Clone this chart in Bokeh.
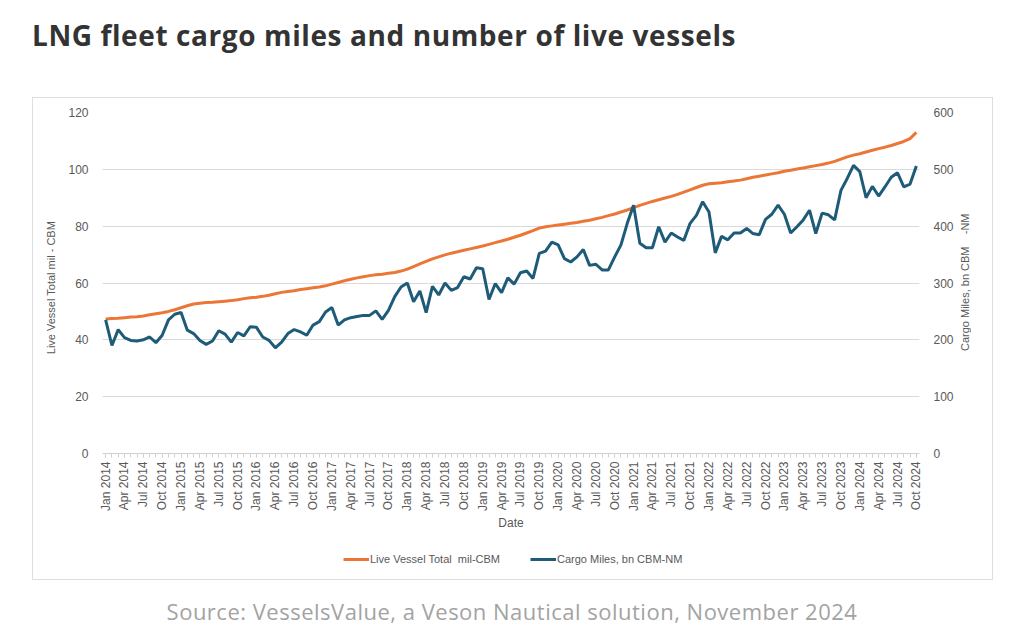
import math
from bokeh.plotting import figure
from bokeh.models import Range1d, LinearAxis, FixedTicker, Legend, LegendItem, Div
from bokeh.layouts import column, row
from bokeh.embed import file_html
from bokeh.resources import INLINE

# ---------------- data ----------------
years = list(range(2014, 2025))
quarter_months = ["Jan", "Apr", "Jul", "Oct"]

# Live vessel total, mil CBM (left axis), monthly Jan 2014 .. Oct 2024
live_vessel = [
    47.3, 47.5, 47.6, 47.8, 48.0, 48.1, 48.4, 48.8, 49.2, 49.5, 50.0, 50.6,
    51.3, 52.0, 52.6, 52.9, 53.1, 53.2, 53.4, 53.6, 53.8, 54.1, 54.5, 54.8,
    55.0, 55.3, 55.7, 56.2, 56.7, 57.0, 57.3, 57.7, 58.0, 58.3, 58.6, 59.0,
    59.6, 60.2, 60.8, 61.3, 61.8, 62.2, 62.6, 62.9, 63.1, 63.4, 63.7, 64.2,
    64.9, 65.8, 66.7, 67.6, 68.5, 69.2, 69.9, 70.5, 71.0, 71.5, 72.0, 72.5,
    73.0, 73.6, 74.2, 74.8, 75.4, 76.1, 76.8, 77.6, 78.4, 79.3, 79.8, 80.1,
    80.4, 80.7, 81.0, 81.3, 81.7, 82.1, 82.6, 83.1, 83.7, 84.3, 85.0, 85.7,
    86.5, 87.3, 88.0, 88.7, 89.3, 89.9, 90.5, 91.2, 92.0, 92.8, 93.6, 94.4,
    94.9, 95.1, 95.3, 95.6, 95.9, 96.2, 96.7, 97.2, 97.6, 98.0, 98.4, 98.8,
    99.3, 99.7, 100.1, 100.5, 100.9, 101.3, 101.7, 102.2, 102.8, 103.6, 104.4, 105.0,
    105.5, 106.1, 106.7, 107.3, 107.8, 108.4, 109.1, 109.8, 110.8, 113.0,
]

# Cargo miles, bn CBM-NM (right axis), monthly Jan 2014 .. Oct 2024
cargo_miles = [
    235, 190, 218, 204, 199, 198, 200, 205, 195, 208, 235, 245,
    248, 217, 211, 199, 192, 198, 216, 210, 196, 213, 207, 223,
    222, 205, 199, 186, 196, 211, 218, 214, 208, 226, 232, 249,
    257, 226, 235, 239, 241, 243, 243, 251, 236, 252, 276, 293,
    300, 267, 286, 248, 294, 279, 300, 287, 292, 311, 307, 327,
    325, 271, 299, 283, 309, 298, 318, 321, 308, 352, 356, 372,
    367, 343, 337, 346, 359, 331, 333, 323, 323, 346, 367, 405,
    437, 370, 362, 362, 399, 372, 388, 381, 375, 405, 419, 443,
    425, 353, 382, 376, 388, 388, 396, 387, 385, 412, 421, 437,
    421, 388, 399, 411, 428, 387, 423, 420, 411, 463, 484, 507,
    496, 450, 470, 453, 469, 486, 494, 469, 474, 506,
]

month_index = list(range(len(cargo_miles)))
tick_positions = list(range(0, len(cargo_miles), 3))
tick_labels = [f"{m} {y}" for y in years for m in quarter_months][:len(tick_positions)]

left_ticks = [0, 20, 40, 60, 80, 100, 120]
right_ticks = [0, 100, 200, 300, 400, 500, 600]

series_names = ["Live Vessel Total  mil-CBM", "Cargo Miles, bn CBM-NM"]
left_axis_title = "Live Vessel Total mil    - CBM"
right_axis_title = "Cargo Miles, bn CBM    -NM"
title_text = "LNG fleet cargo miles and number of live vessels"
source_text = "Source: VesselsValue, a Veson Nautical solution, November 2024"

ORANGE = "#EB7636"
BLUE = "#1E5B79"
GREY = "#595959"
FONT = "Liberation Sans"

# ---------------- main figure ----------------
p = figure(width=923, height=438, output_backend="svg", toolbar_location=None,
           x_range=Range1d(-0.5, len(cargo_miles) - 0.5), y_range=Range1d(0, 120),
           min_border_left=69, min_border_right=36, min_border_top=14, min_border_bottom=83,
           title=None)
p.outline_line_color = None
p.background_fill_color = "white"
p.border_fill_color = "white"
p.extra_y_ranges = {"cargo": Range1d(0, 600)}

p.line(month_index, live_vessel, line_color=ORANGE, line_width=3)
p.line(month_index, cargo_miles, line_color=BLUE, line_width=3, y_range_name="cargo")

ya = p.yaxis[0]
ya.ticker = FixedTicker(ticks=left_ticks)
ya.axis_label = left_axis_title

ra = LinearAxis(y_range_name="cargo", ticker=FixedTicker(ticks=right_ticks))
p.add_layout(ra, "right")

for ax in (ya, ra):
    ax.axis_line_color = None
    ax.major_tick_line_color = None
    ax.minor_tick_line_color = None
    ax.major_label_text_font = FONT
    ax.major_label_text_font_size = "12px"
    ax.major_label_text_color = GREY
    ax.major_label_standoff = 8
    ax.axis_label_text_font = FONT
    ax.axis_label_text_font_size = "11px"
    ax.axis_label_text_color = GREY
    ax.axis_label_text_font_style = "normal"
    ax.axis_label_standoff = 8

xa = p.xaxis[0]
xa.ticker = FixedTicker(ticks=tick_positions, minor_ticks=month_index)
xa.major_label_overrides = {t: l for t, l in zip(tick_positions, tick_labels)}
xa.major_label_orientation = math.pi / 2
xa.axis_line_color = "#d0d0d0"
xa.major_tick_line_color = "#d0d0d0"
xa.minor_tick_line_color = "#d0d0d0"
xa.major_tick_in = 0
xa.major_tick_out = 4
xa.minor_tick_in = 0
xa.minor_tick_out = 4
xa.major_label_text_font = FONT
xa.major_label_text_font_size = "12px"
xa.major_label_text_color = GREY
xa.major_label_standoff = 4
xa.axis_label = "Date"
xa.axis_label_text_font = FONT
xa.axis_label_text_font_size = "12px"
xa.axis_label_text_color = GREY
xa.axis_label_text_font_style = "normal"
xa.axis_label_standoff = 2

p.xgrid.grid_line_color = None
p.ygrid.grid_line_color = "#dadada"
p.ygrid.ticker = FixedTicker(ticks=left_ticks)

# right axis title, reading bottom-to-top and centred on the plot area
right_title_div = Div(
    text=f'<div style="height: 341px; margin-top: 14px; width: 18px; writing-mode: vertical-rl; '
         f'transform: rotate(180deg); text-align: center; font-family: \'Liberation Sans\'; '
         f'font-size: 11px; line-height: 18px; color: {GREY}; white-space: pre;">{right_axis_title}</div>',
    width=36, height=438, margin=(0, 0, 0, 0))

# ---------------- legend strip ----------------
# the series are re-drawn here only so the legend has glyphs; ranges keep them off-view
lf = figure(width=959, height=43, output_backend="svg", toolbar_location=None,
            x_axis_location=None, y_axis_location=None, title=None,
            x_range=Range1d(0, 1), y_range=Range1d(-2, -1), min_border=0)
lf.outline_line_color = None
lf.xgrid.grid_line_color = None
lf.ygrid.grid_line_color = None
lf.border_fill_color = "white"
lo = lf.line(month_index, live_vessel, line_color=ORANGE, line_width=3)
lb = lf.line(month_index, cargo_miles, line_color=BLUE, line_width=3)
legend = Legend(items=[LegendItem(label=series_names[0], renderers=[lo]),
                       LegendItem(label=series_names[1], renderers=[lb])],
                location=(310, 14), orientation="horizontal")
legend.glyph_width = 26
legend.glyph_height = 12
legend.label_height = 12
legend.label_standoff = 1
legend.spacing = 30
legend.padding = 0
legend.margin = 0
legend.border_line_color = None
legend.background_fill_alpha = 0
legend.label_text_font = FONT
legend.label_text_font_size = "11px"
legend.label_text_color = GREY
lf.add_layout(legend, "center")

# ---------------- page ----------------
title_div = Div(
    text=f'<div style="font-family: \'Open Sans\'; font-weight: bold; font-size: 28px; letter-spacing: 0.6px; '
         f'line-height: 30px; color: #333333; padding-top: 20px; white-space: nowrap;">{title_text}</div>',
    width=960, height=97, margin=(0, 0, 0, 32))
boxed = column(row(p, right_title_div, spacing=0), lf, spacing=0,
               styles={"border": "1px solid #dedede"}, margin=(0, 0, 0, 32))
source_div = Div(
    text=f'<div style="font-family: \'Open Sans\'; font-size: 22px; line-height: 26px; letter-spacing: 0.5px; '
         f'color: #a3a3a3; padding-top: 18px; text-align: center; width: 1024px; white-space: nowrap;">{source_text}</div>',
    width=1024, height=58, margin=(0, 0, 0, 0))

layout = column(title_div, boxed, source_div, spacing=0)

open("out.html", "w").write(file_html(layout, INLINE))
